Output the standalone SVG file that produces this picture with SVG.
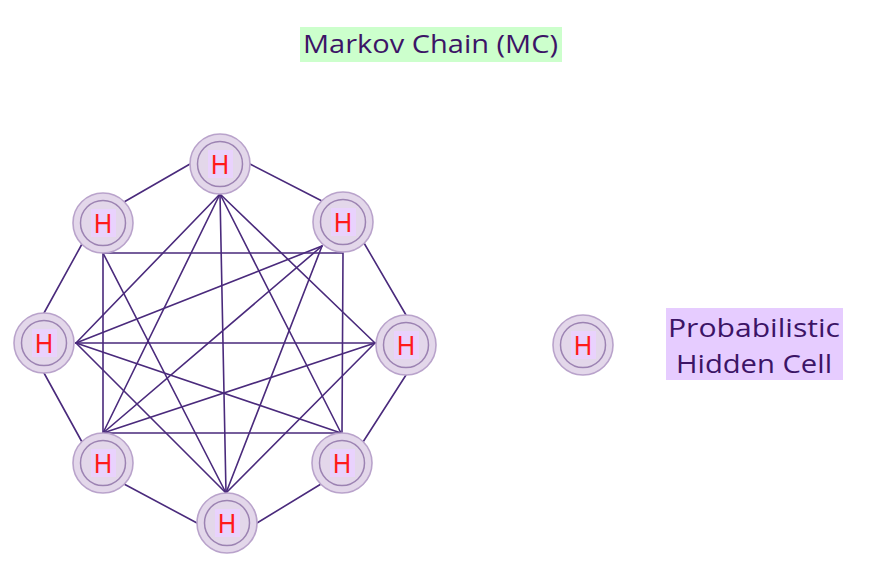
<svg xmlns="http://www.w3.org/2000/svg" width="875" height="567" viewBox="0 0 875 567">
<defs>
<style>
.edge{stroke:#4a2a7c;stroke-width:1.6;fill:none;stroke-linecap:round}
.outer{fill:#e3d7ea;stroke:#b9a3cb;stroke-width:1.6}
.inner{fill:#e3d7ea;stroke:#9c83b2;stroke-width:1.5}
.hbg{fill:#e9d2fd}
.h{font-family:"Liberation Sans","DejaVu Sans",sans-serif;font-size:28px;fill:#ff1a1a;text-anchor:middle}
.lbl{font-family:"Open Sans","Liberation Sans",sans-serif;font-size:25px;fill:#3c1466}
</style>
<g id="cell">
<circle class="outer" r="30"/>
<circle class="inner" r="22.5"/>
<rect class="hbg" x="-12" y="-14" width="25" height="28"/>
<text class="h" x="0" y="10" textLength="18" lengthAdjust="spacingAndGlyphs">H</text>
</g>
</defs>
<rect width="875" height="567" fill="#ffffff"/>
<g id="title">
<rect x="300" y="27" width="262" height="35" fill="#ccffcc"/>
<text class="lbl" x="303" y="53" textLength="255" lengthAdjust="spacingAndGlyphs">Markov Chain (MC)</text>
</g>
<g id="connectors">
<line class="edge" x1="124" y1="202" x2="190" y2="164"/>
<line class="edge" x1="250" y1="164" x2="322" y2="201"/>
<line class="edge" x1="364" y1="243" x2="406" y2="315"/>
<line class="edge" x1="406" y1="375" x2="363" y2="442"/>
<line class="edge" x1="321" y1="484" x2="257" y2="523"/>
<line class="edge" x1="197" y1="523" x2="124" y2="484"/>
<line class="edge" x1="82" y1="442" x2="44" y2="373"/>
<line class="edge" x1="44" y1="313" x2="82" y2="244"/>
<polygon class="edge" points="103,253 343,253 342,433 103,433"/>
<line class="edge" x1="220" y1="194" x2="76" y2="343"/>
<line class="edge" x1="220" y1="194" x2="103" y2="433"/>
<line class="edge" x1="220" y1="194" x2="226" y2="493"/>
<line class="edge" x1="220" y1="194" x2="341" y2="433"/>
<line class="edge" x1="220" y1="194" x2="375" y2="343"/>
<line class="edge" x1="322" y1="246" x2="76" y2="343"/>
<line class="edge" x1="322" y1="246" x2="103" y2="433"/>
<line class="edge" x1="322" y1="246" x2="226" y2="493"/>
<line class="edge" x1="76" y1="343" x2="375" y2="343"/>
<line class="edge" x1="76" y1="343" x2="341" y2="433"/>
<line class="edge" x1="76" y1="343" x2="226" y2="493"/>
<line class="edge" x1="103" y1="253" x2="226" y2="493"/>
<line class="edge" x1="103" y1="433" x2="375" y2="343"/>
<line class="edge" x1="375" y1="343" x2="226" y2="493"/>
</g>
<g id="node-t"><use href="#cell" x="220" y="164"/></g>
<g id="node-tr"><use href="#cell" x="343" y="222"/></g>
<g id="node-r"><use href="#cell" x="406" y="345"/></g>
<g id="node-br"><use href="#cell" x="342" y="463"/></g>
<g id="node-b"><use href="#cell" x="227" y="523"/></g>
<g id="node-bl"><use href="#cell" x="103" y="463"/></g>
<g id="node-l"><use href="#cell" x="44" y="343"/></g>
<g id="node-tl"><use href="#cell" x="103" y="223"/></g>
<g id="node-single"><use href="#cell" x="583" y="345"/></g>
<g id="label">
<rect x="666" y="308" width="177" height="72" fill="#e6ccff"/>
<text class="lbl" x="668" y="337" textLength="172" lengthAdjust="spacingAndGlyphs">Probabilistic</text>
<text class="lbl" x="676" y="373" textLength="156" lengthAdjust="spacingAndGlyphs">Hidden Cell</text>
</g>
</svg>
